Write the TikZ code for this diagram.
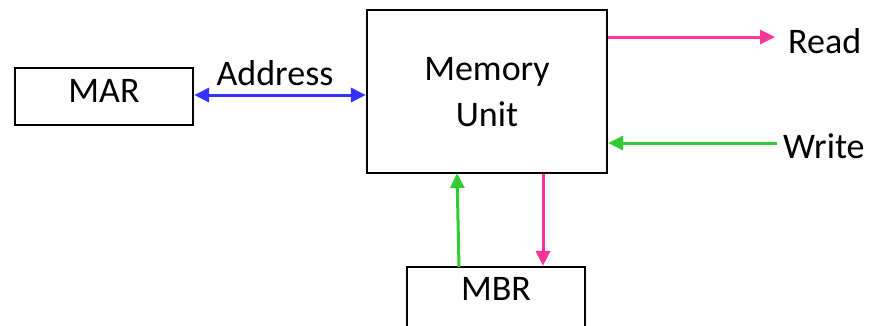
\documentclass[tikz,border=0pt]{standalone}
\usepackage{fontspec}
\setmainfont{Carlito}
\usetikzlibrary{arrows.meta}
\definecolor{readpink}{HTML}{FF3399}
\definecolor{addrblue}{HTML}{3333FF}
\definecolor{writegreen}{HTML}{33CC33}
\tikzset{
  unitbox/.style={draw=black, line width=2.2pt, fill=white, inner sep=0pt,
    align=center, font=\fontsize{36}{45}\selectfont},
  lbl/.style={inner sep=0pt, font=\fontsize{36}{45}\selectfont},
  tip/.style={-{Triangle[length=15pt,width=14pt]}},
  sig/.style={line width=3pt, tip},
}
\begin{document}
\begin{tikzpicture}[x=1pt,y=-1pt]
  \useasboundingbox (0,0) rectangle (877,325);
  \clip (0,0) rectangle (877,325);

  % registers and memory
  \node[unitbox, minimum width=178pt, minimum height=57pt] (mar) at (104,96.5) {};
  \node[lbl, anchor=base] at (mar.center |- 0,102) {MAR};

  \node[unitbox, minimum width=240pt, minimum height=163pt] (mem) at (487,91.5) {};
  \node[lbl, anchor=base] (memtxt) at (487,80) {Memory};
  \node[lbl, anchor=base] at (487,126) {Unit};

  \node[unitbox, minimum width=178pt, minimum height=70pt] (mbr) at (496,302) {};
  \node[lbl, anchor=base] at (496,300) {MBR};

  % address bus
  \draw[sig, addrblue, {Triangle[length=15pt,width=14pt]}-{Triangle[length=15pt,width=14pt]}]
    (mar.east |- 0,95) -- (mem.west |- 0,95);
  \node[lbl, anchor=base] (addr) at (275,85) {Address};

  % control lines
  \node[lbl, anchor=base west] (read) at (788,53) {Read};
  \node[lbl, anchor=base west] (write) at (783,158) {Write};
  \coordinate (readend) at (775,37);
  \coordinate (writestart) at (777,143);
  \draw[sig, readpink] (mem.east |- readend) -- (readend);
  \draw[sig, writegreen] (writestart) -- (mem.east |- writestart);

  % data lines between memory and MBR
  \coordinate (gbot) at (459,267);
  \coordinate (gtop) at (457,173);
  \draw[sig, writegreen] (gbot) -- (gtop);
  \draw[sig, readpink] (mem.south -| 543,0) -- (mbr.north -| 543,0);
\end{tikzpicture}
\end{document}
